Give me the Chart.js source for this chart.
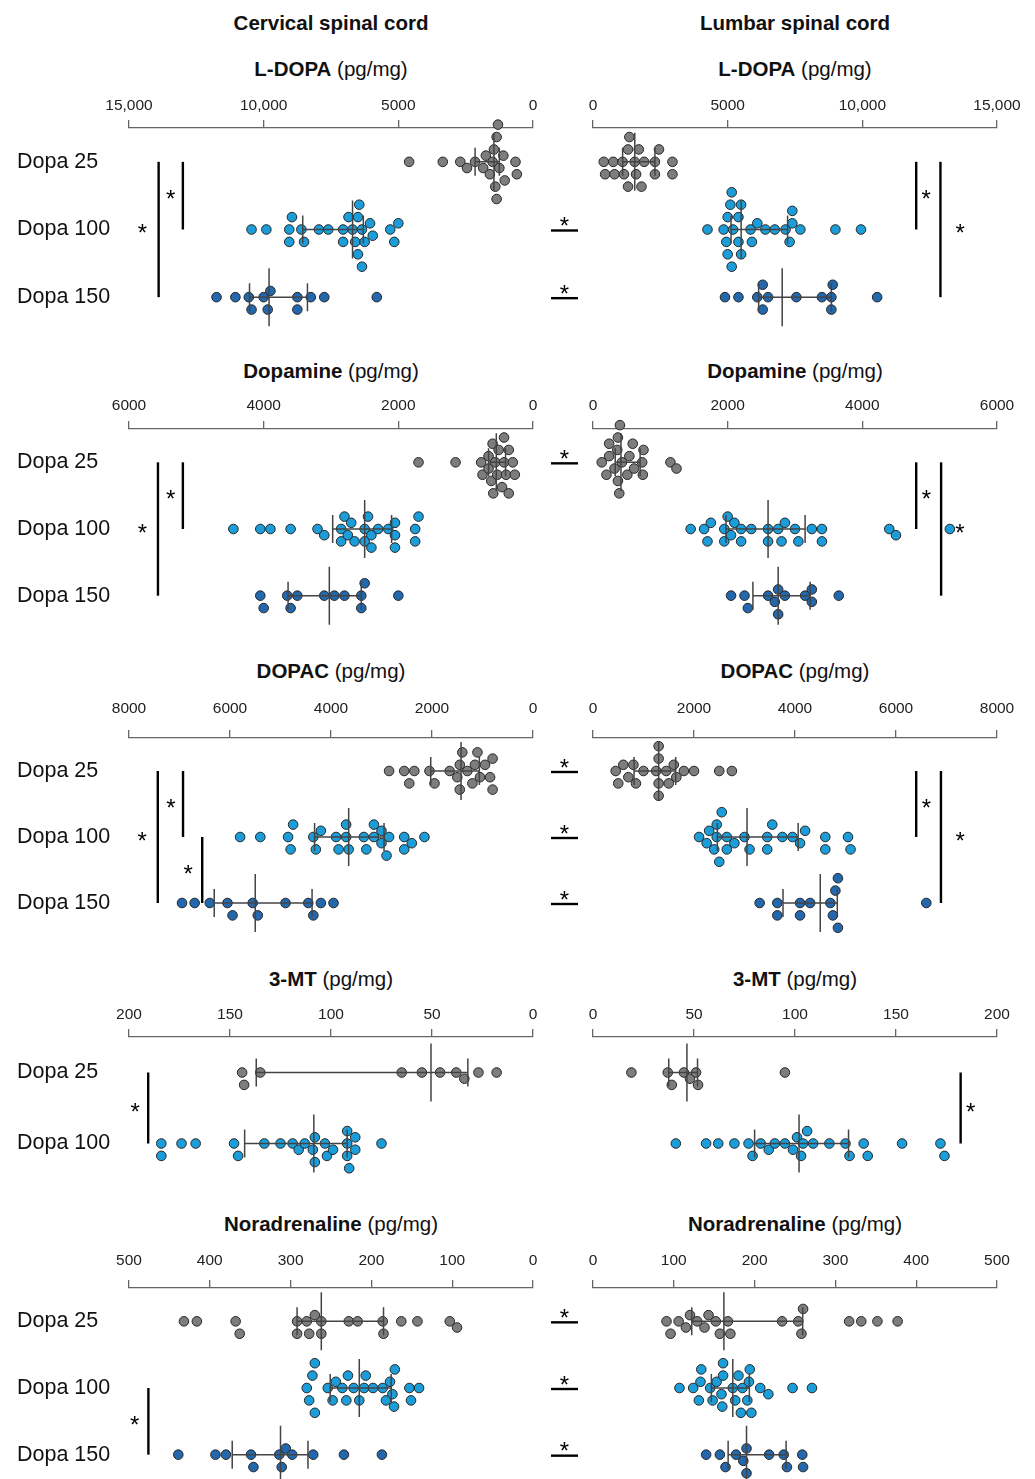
<!DOCTYPE html>
<html>
<head>
<meta charset="utf-8">
<script src="https://cdn.jsdelivr.net/npm/chart.js@4.4.1/dist/chart.umd.min.js"></script>
<style>
  body { margin: 0; background: #fff; }
  #page { position: relative; width: 1035px; height: 1479px; overflow: hidden; font-family: "Liberation Sans", Arial, sans-serif; color: #111; }
  .head, .title { position: absolute; transform: translate(-50%, -50%); white-space: nowrap; font-size: 20.5px; }
  .head { font-weight: bold; }
  canvas { position: absolute; }
</style>
</head>
<body>
<div id="page"></div>
<script>
const groups = ['Dopa 25', 'Dopa 100', 'Dopa 150'];
const regions = ['Cervical spinal cord', 'Lumbar spinal cord'];
const analytes = ['L-DOPA', 'Dopamine', 'DOPAC', '3-MT', 'Noradrenaline'];
const unit = '(pg/mg)';
const axisMax = [15000, 6000, 8000, 200, 500];
const axisStep = [5000, 2000, 2000, 50, 100];

// pg/mg, one array per dose group
const ldopaCervical = [
  [4600, 3350, 2700, 2450, 2150, 1850, 1750, 1600, 1500, 1450, 1400, 1350, 1350, 1300, 1250, 1100, 1050, 650, 600],
  [10450, 9900, 9050, 9050, 8950, 8600, 8500, 7950, 7600, 7050, 7050, 6850, 6700, 6600, 6500, 6500, 6450, 6350, 6350, 6250, 6050, 5950, 5300, 5150, 5000],
  [11750, 11050, 10550, 10450, 10000, 9850, 9750, 8750, 8750, 8250, 7750, 5800]
];
const ldopaLumbar = [
  [400, 450, 750, 800, 1100, 1150, 1300, 1300, 1350, 1550, 1600, 1700, 1800, 1900, 2300, 2300, 2450, 2950, 2950],
  [4250, 4850, 4950, 5000, 5000, 5100, 5150, 5150, 5200, 5400, 5400, 5500, 5500, 5850, 5900, 6100, 6400, 6750, 7150, 7300, 7400, 7400, 7700, 9000, 9950],
  [4900, 5400, 6100, 6300, 6300, 6500, 7550, 8500, 8850, 8850, 8900, 10550]
];
const dopamineCervical = [
  [1700, 1150, 770, 750, 660, 660, 620, 600, 590, 560, 530, 510, 460, 430, 430, 400, 360, 360, 300, 270],
  [4450, 4050, 3900, 3600, 3200, 3100, 2850, 2850, 2800, 2750, 2700, 2650, 2500, 2500, 2450, 2400, 2400, 2300, 2150, 2050, 2050, 2050, 1750, 1750, 1700],
  [4050, 4000, 3650, 3600, 3500, 3100, 2950, 2800, 2550, 2550, 2500, 2000]
];
const dopamineLumbar = [
  [130, 200, 240, 240, 320, 360, 370, 370, 390, 400, 430, 510, 540, 590, 610, 730, 740, 750, 1150, 1240],
  [1450, 1650, 1700, 1750, 1950, 1950, 2000, 2050, 2100, 2200, 2200, 2350, 2600, 2600, 2750, 2800, 2850, 3000, 3050, 3250, 3400, 3400, 4400, 4500, 5300],
  [2050, 2250, 2300, 2600, 2700, 2750, 2750, 2850, 3150, 3250, 3250, 3650]
];
const dopacCervical = [
  [2850, 2550, 2450, 2350, 2050, 1950, 1650, 1500, 1450, 1450, 1400, 1300, 1200, 1150, 1100, 1050, 950, 850, 800, 800],
  [5800, 5400, 4850, 4800, 4750, 4350, 4300, 4200, 3900, 3850, 3700, 3700, 3650, 3350, 3300, 3150, 3150, 3000, 3000, 2900, 2850, 2550, 2550, 2400, 2150],
  [6950, 6700, 6400, 6050, 5950, 5550, 5450, 4900, 4450, 4350, 4200, 3950]
];
const dopacLumbar = [
  [450, 500, 600, 700, 800, 850, 1000, 1250, 1300, 1300, 1300, 1300, 1450, 1500, 1600, 1650, 1800, 2000, 2500, 2750],
  [2100, 2250, 2300, 2400, 2450, 2450, 2500, 2550, 2650, 2650, 2800, 3000, 3100, 3450, 3450, 3550, 3750, 3950, 4100, 4200, 4600, 4600, 5050, 5100],
  [3300, 3650, 3650, 4100, 4100, 4300, 4700, 4750, 4800, 4850, 4850, 6600]
];
const mtCervical = [
  [144, 143, 135, 65, 55, 46, 38, 34, 27, 18],
  [184, 184, 174, 167, 148, 146, 133, 125, 119, 116, 113, 109, 108, 108, 103, 102, 99, 92, 92, 92, 91, 88, 88, 75]
];
const mtLumbar = [
  [19, 37, 39, 45, 48, 51, 52, 95],
  [41, 56, 62, 70, 77, 79, 83, 87, 90, 95, 99, 101, 103, 104, 106, 109, 117, 125, 127, 134, 136, 153, 172, 174]
];
const naCervical = [
  [432, 416, 368, 363, 292, 292, 280, 277, 270, 262, 262, 228, 217, 186, 185, 163, 143, 103, 94],
  [280, 277, 273, 270, 270, 254, 248, 244, 236, 231, 229, 222, 215, 209, 207, 198, 186, 182, 177, 174, 172, 171, 153, 151, 141],
  [439, 393, 380, 349, 346, 314, 311, 306, 298, 272, 234, 187]
];
const naLumbar = [
  [91, 96, 106, 115, 120, 129, 138, 143, 152, 157, 167, 170, 234, 254, 258, 260, 317, 332, 352, 377],
  [107, 124, 131, 133, 134, 145, 148, 153, 159, 160, 161, 161, 173, 176, 180, 183, 185, 191, 193, 194, 196, 207, 217, 247, 271],
  [140, 157, 164, 177, 186, 190, 190, 218, 236, 240, 259, 260]
];
const values = [
  [ldopaCervical, ldopaLumbar],
  [dopamineCervical, dopamineLumbar],
  [dopacCervical, dopacLumbar],
  [mtCervical, mtLumbar],
  [naCervical, naLumbar]
];

// dose-group comparisons: bar between groups "from"/"to", drawn at axis value "at", asterisk at "star"
const sigCervical = [
  [{from: 0, to: 2, at: 13900, star: 14500}, {from: 0, to: 1, at: 13000, star: 13450}],
  [{from: 0, to: 2, at: 5570, star: 5800}, {from: 0, to: 1, at: 5200, star: 5380}],
  [{from: 0, to: 2, at: 7430, star: 7740}, {from: 0, to: 1, at: 6930, star: 7170}, {from: 1, to: 2, at: 6550, star: 6830}],
  [{from: 0, to: 1, at: 190.5, star: 197}],
  [{from: 1, to: 2, at: 476, star: 493}]
];
const sigLumbar = [
  [{from: 0, to: 1, at: 12000, star: 12370}, {from: 0, to: 2, at: 12900, star: 13630}],
  [{from: 0, to: 1, at: 4800, star: 4950}, {from: 0, to: 2, at: 5170, star: 5450}],
  [{from: 0, to: 1, at: 6400, star: 6600}, {from: 0, to: 2, at: 6890, star: 7270}],
  [{from: 0, to: 1, at: 182, star: 187}],
  []
];
// cervical vs lumbar, dose groups that differ
const sigRegion = [[1, 2], [0], [0, 1, 2], [], [0, 1, 2]];

const groupColors = ['#7d7d7d', '#1b9dd9', '#2368ad'];
const FONT = '"Liberation Sans", Arial, sans-serif';
const AXIS_H = 50;
const axisY = [128, 429, 738, 1037, 1288];
const areaH = [203, 200, 198, 142, 200];
const labelGap = [22, 23, 29, 22, 27];
const titleY = [69, 371, 671, 979, 1224];
const cols = [
  {canvasLeft: 0, canvasW: 560, areaLeft: 129, areaRight: 533},
  {canvasLeft: 540, canvasW: 495, areaLeft: 593, areaRight: 997}
];
const LANE = 6.2, DIA = 8.4;

const page = document.getElementById('page');

function addText(cls, html, x, y) {
  const d = document.createElement('div');
  d.className = cls;
  d.innerHTML = html;
  d.style.left = x + 'px';
  d.style.top = y + 'px';
  page.appendChild(d);
}

// quartiles the Prism way, position (n + 1) * p
function quantile(arr, p) {
  const s = [...arr].sort((a, b) => a - b);
  const pos = (s.length + 1) * p;
  const lo = Math.floor(pos);
  if (lo < 1) return s[0];
  if (lo >= s.length) return s[s.length - 1];
  return s[lo - 1] + (pos - lo) * (s[lo] - s[lo - 1]);
}

function makeMarks(vals, sig, cross) {
  return {
    id: 'marks',
    afterDatasetsDraw(chart) {
      const {ctx, chartArea: a, scales: {x, y}} = chart;
      ctx.save();
      ctx.strokeStyle = '#444';
      ctx.lineWidth = 1.5;
      vals.forEach((v, gi) => {
        const cy = y.getPixelForValue(gi);
        const q1 = x.getPixelForValue(quantile(v, 0.25));
        const md = x.getPixelForValue(quantile(v, 0.5));
        const q3 = x.getPixelForValue(quantile(v, 0.75));
        ctx.beginPath();
        ctx.moveTo(q1, cy); ctx.lineTo(q3, cy);
        ctx.moveTo(q1, cy - 14); ctx.lineTo(q1, cy + 14);
        ctx.moveTo(q3, cy - 14); ctx.lineTo(q3, cy + 14);
        ctx.moveTo(md, cy - 29); ctx.lineTo(md, cy + 29);
        ctx.stroke();
      });
      ctx.strokeStyle = '#000';
      ctx.fillStyle = '#000';
      ctx.lineWidth = 2.4;
      ctx.font = '24px ' + FONT;
      ctx.textAlign = 'center';
      ctx.textBaseline = 'middle';
      sig.forEach(s => {
        const bx = x.getPixelForValue(s.at);
        const y1 = y.getPixelForValue(s.from), y2 = y.getPixelForValue(s.to);
        ctx.beginPath(); ctx.moveTo(bx, y1); ctx.lineTo(bx, y2); ctx.stroke();
        ctx.fillText('*', x.getPixelForValue(s.star), (y1 + y2) / 2 + 5);
      });
      cross.forEach(gi => {
        const cy = y.getPixelForValue(gi) + 1;
        ctx.beginPath(); ctx.moveTo(a.left - 42, cy); ctx.lineTo(a.left - 15, cy); ctx.stroke();
        ctx.fillText('*', a.left - 28.5, cy - 3);
      });
      ctx.restore();
    }
  };
}

// spread points of a group into lanes so they don't sit on top of each other
function swarm(chart) {
  const xs = chart.scales.x, ys = chart.scales.y;
  const unitPx = Math.abs(ys.getPixelForValue(1) - ys.getPixelForValue(0));
  chart.data.datasets.forEach((ds, gi) => {
    const placed = [];
    const pts = ds.data.map(p => ({p, px: xs.getPixelForValue(p.x)})).sort((a, b) => a.px - b.px);
    pts.forEach(o => {
      for (let k = 0; k < 30; k++) {
        const lane = k === 0 ? 0 : (k % 2 ? (k + 1) / 2 : -k / 2);
        const dy = lane * LANE;
        if (placed.every(q => Math.hypot(q.px - o.px, q.dy - dy) >= DIA)) {
          placed.push({px: o.px, dy});
          o.p.y = gi + dy / unitPx;
          break;
        }
      }
    });
  });
  chart.update('none');
}

regions.forEach((r, c) => addText('head', r, (cols[c].areaLeft + cols[c].areaRight) / 2, 23));

analytes.forEach((name, row) => {
  cols.forEach((L, c) => {
    const vals = values[row][c];
    const n = vals.length;
    addText('title', '<b>' + name + '</b> ' + unit, (L.areaLeft + L.areaRight) / 2, titleY[row]);

    const canvas = document.createElement('canvas');
    canvas.width = L.canvasW;
    canvas.height = AXIS_H + areaH[row];
    canvas.style.left = L.canvasLeft + 'px';
    canvas.style.top = (axisY[row] - AXIS_H) + 'px';
    page.appendChild(canvas);

    const datasets = vals.map((v, gi) => ({
      data: v.map(x => ({x, y: gi})),
      backgroundColor: groupColors[gi],
      borderColor: '#262626',
      borderWidth: 1,
      pointRadius: 4.8,
      pointHoverRadius: 4.8,
      clip: false
    }));

    const yAxis = {
      type: 'linear', display: c === 0, reverse: true, min: -0.5, max: n - 0.5,
      afterBuildTicks: ax => { ax.ticks = vals.map((_, i) => ({value: i})); },
      ticks: {crossAlign: 'far', color: '#111', font: {family: FONT, size: 21.5}, callback: v => groups[v]},
      grid: {display: false},
      border: {display: false}
    };
    if (c === 0) {
      yAxis.afterFit = ax => { ax.width = L.areaLeft - L.canvasLeft - 17; ax.paddingTop = 0; ax.paddingBottom = 0; };
    }

    const chart = new Chart(canvas, {
      type: 'scatter',
      data: {datasets},
      options: {
        responsive: false,
        animation: false,
        events: [],
        layout: {
          autoPadding: false,
          padding: {left: c === 0 ? 17 : L.areaLeft - L.canvasLeft, right: L.canvasLeft + L.canvasW - L.areaRight, top: 0, bottom: 0}
        },
        plugins: {legend: {display: false}, tooltip: {enabled: false}},
        scales: {
          x: {
            type: 'linear', position: 'top', reverse: c === 0, min: 0, max: axisMax[row],
            afterFit: ax => { ax.height = AXIS_H; ax.paddingLeft = 0; ax.paddingRight = 0; },
            ticks: {
              stepSize: axisStep[row], autoSkip: false, maxRotation: 0,
              padding: labelGap[row] - 8 - 9.3, color: '#222', font: {family: FONT, size: 15.5},
              callback: v => v >= 10000 ? v.toLocaleString('en-US') : String(v)
            },
            grid: {drawOnChartArea: false, drawTicks: true, tickLength: 8, color: '#666', lineWidth: 1.3},
            border: {display: true, color: '#666', width: 1.3}
          },
          y: yAxis
        }
      },
      plugins: [makeMarks(vals, c === 0 ? sigCervical[row] : sigLumbar[row], c === 1 ? sigRegion[row] : [])]
    });
    swarm(chart);
  });
});
</script>
</body>
</html>
